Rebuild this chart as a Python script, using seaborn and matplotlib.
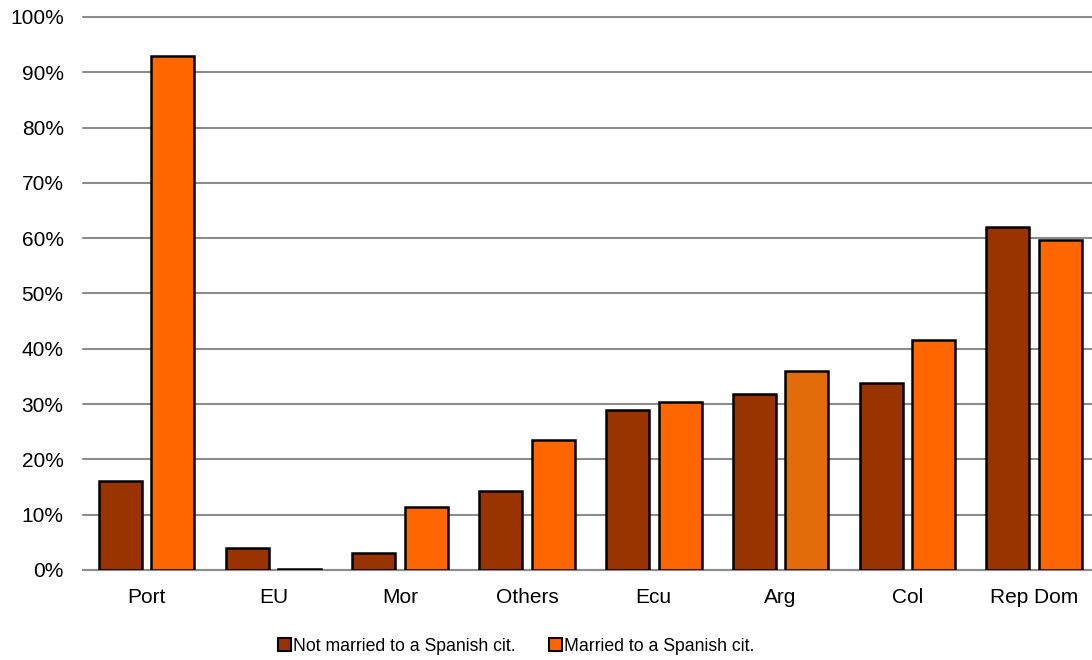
import matplotlib
matplotlib.use("Agg")
import matplotlib.pyplot as plt
import seaborn as sns
import pandas as pd
from matplotlib.patches import Patch
from matplotlib.ticker import PercentFormatter

categories = ["Port", "EU", "Mor", "Others", "Ecu", "Arg", "Col", "Rep Dom"]
not_married = [16.1, 3.9, 3.1, 14.3, 28.9, 31.8, 33.9, 62.1]
married = [92.9, 0.2, 11.4, 23.5, 30.4, 36.0, 41.6, 59.6]
series_names = ["Not married to a Spanish cit.", "Married to a Spanish cit."]
colors = ["#993300", "#FF6600"]
highlight_color = "#E36C0A"
highlight_category = "Arg"

sns.set_theme(style="white")
plt.rcParams["font.family"] = ["Liberation Sans", "DejaVu Sans"]

df = pd.DataFrame({
    "cat": categories * 2,
    "val": [v / 100 for v in not_married] + [v / 100 for v in married],
    "series": [series_names[0]] * len(categories) + [series_names[1]] * len(categories),
})

fig = plt.figure(figsize=(10.92, 6.6), dpi=100)
ax = fig.add_axes([83.1 / 1092, 0.1364, 1014.5 / 1092, 0.8379])

sns.barplot(data=df, x="cat", y="val", hue="series", order=categories,
            hue_order=series_names, palette=colors, saturation=1, width=0.83, gap=0.183,
            edgecolor="black", linewidth=1.8, legend=False, ax=ax, zorder=3)

idx = categories.index(highlight_category)
ax.containers[1][idx].set_facecolor(highlight_color)

ax.set_ylim(0, 1.0)
ax.set_xlim(-0.5, len(categories) - 0.5)
ax.yaxis.set_major_formatter(PercentFormatter(1.0, decimals=0))
ax.set_yticks([i / 10 for i in range(11)])
ax.grid(axis="y", color="#8c8c8c", linewidth=1.5, zorder=0)
for gl in ax.get_ygridlines():
    gl.set_clip_on(False)
ax.set_axisbelow(True)
for s in ["top", "right", "left"]:
    ax.spines[s].set_visible(False)
ax.spines["bottom"].set_color("#8c8c8c")
ax.spines["bottom"].set_linewidth(1.5)
ax.tick_params(axis="both", length=0, labelsize=15, colors="black")
ax.tick_params(axis="y", pad=14)
ax.tick_params(axis="x", pad=13)
ax.set_xlabel("")
ax.set_ylabel("")

handles = [Patch(facecolor=c, edgecolor="black", linewidth=1.5) for c in colors]
fig.legend(handles, series_names, loc="center", bbox_to_anchor=(0.473, 0.021),
           ncol=2, frameon=False, fontsize=12.7, handlelength=0.72, handleheight=0.78,
           handletextpad=0.12, columnspacing=1.9, labelcolor="black")

fig.savefig("out.png", dpi=100)
